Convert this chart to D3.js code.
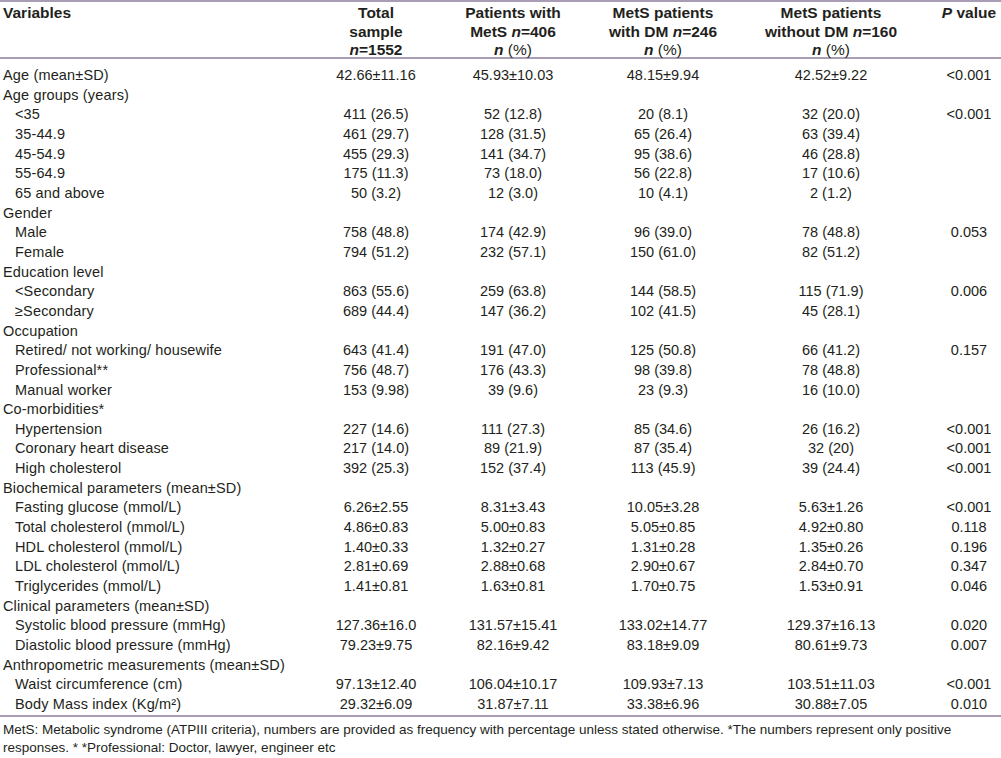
<!DOCTYPE html>
<html><head><meta charset="utf-8">
<script src="https://cdn.jsdelivr.net/npm/d3@7"></script>
<style>
html,body{margin:0;padding:0;background:#fff;}
svg{display:block;}
text{font-family:"Liberation Sans",Arial,sans-serif;fill:#231f20;}
</style></head>
<body>
<script>
// ---------- DATA ----------
const labels = [
  "Age (mean±SD)","Age groups (years)","<35","35-44.9","45-54.9","55-64.9","65 and above",
  "Gender","Male","Female","Education level","<Secondary","≥Secondary",
  "Occupation","Retired/ not working/ housewife","Professional**","Manual worker",
  "Co-morbidities*","Hypertension","Coronary heart disease","High cholesterol",
  "Biochemical parameters (mean±SD)","Fasting glucose (mmol/L)","Total cholesterol (mmol/L)",
  "HDL cholesterol (mmol/L)","LDL cholesterol (mmol/L)","Triglycerides (mmol/L)",
  "Clinical parameters (mean±SD)","Systolic blood pressure (mmHg)","Diastolic blood pressure (mmHg)",
  "Anthropometric measurements (mean±SD)","Waist circumference (cm)","Body Mass index (Kg/m²)"
];
const isSubRow = [0,0,1,1,1,1,1, 0,1,1, 0,1,1, 0,1,1,1, 0,1,1,1, 0,1,1,1,1,1, 0,1,1, 0,1,1];
const totalSample = ["42.66±11.16","","411 (26.5)","461 (29.7)","455 (29.3)","175 (11.3)","50 (3.2)",
  "","758 (48.8)","794 (51.2)","","863 (55.6)","689 (44.4)",
  "","643 (41.4)","756 (48.7)","153 (9.98)",
  "","227 (14.6)","217 (14.0)","392 (25.3)",
  "","6.26±2.55","4.86±0.83","1.40±0.33","2.81±0.69","1.41±0.81",
  "","127.36±16.0","79.23±9.75","","97.13±12.40","29.32±6.09"];
const metsPatients = ["45.93±10.03","","52 (12.8)","128 (31.5)","141 (34.7)","73 (18.0)","12 (3.0)",
  "","174 (42.9)","232 (57.1)","","259 (63.8)","147 (36.2)",
  "","191 (47.0)","176 (43.3)","39 (9.6)",
  "","111 (27.3)","89 (21.9)","152 (37.4)",
  "","8.31±3.43","5.00±0.83","1.32±0.27","2.88±0.68","1.63±0.81",
  "","131.57±15.41","82.16±9.42","","106.04±10.17","31.87±7.11"];
const metsWithDM = ["48.15±9.94","","20 (8.1)","65 (26.4)","95 (38.6)","56 (22.8)","10 (4.1)",
  "","96 (39.0)","150 (61.0)","","144 (58.5)","102 (41.5)",
  "","125 (50.8)","98 (39.8)","23 (9.3)",
  "","85 (34.6)","87 (35.4)","113 (45.9)",
  "","10.05±3.28","5.05±0.85","1.31±0.28","2.90±0.67","1.70±0.75",
  "","133.02±14.77","83.18±9.09","","109.93±7.13","33.38±6.96"];
const metsWithoutDM = ["42.52±9.22","","32 (20.0)","63 (39.4)","46 (28.8)","17 (10.6)","2 (1.2)",
  "","78 (48.8)","82 (51.2)","","115 (71.9)","45 (28.1)",
  "","66 (41.2)","78 (48.8)","16 (10.0)",
  "","26 (16.2)","32 (20)","39 (24.4)",
  "","5.63±1.26","4.92±0.80","1.35±0.26","2.84±0.70","1.53±0.91",
  "","129.37±16.13","80.61±9.73","","103.51±11.03","30.88±7.05"];
const pValues = ["<0.001","","<0.001","","","","",
  "","0.053","","","0.006","",
  "","0.157","","",
  "","<0.001","<0.001","<0.001",
  "","<0.001","0.118","0.196","0.347","0.046",
  "","0.020","0.007","","<0.001","0.010"];
// header lines per column: array of lines, each line array of [text, italic, bold]
const headerCols = [
  [[["Variables",0,1]]],
  [[["Total",0,1]],[["sample",0,1]],[["n",1,1],["=1552",0,1]]],
  [[["Patients with",0,1]],[["MetS ",0,1],["n",1,1],["=406",0,1]],[["n",1,1],[" (%)",0,0]]],
  [[["MetS patients",0,1]],[["with DM ",0,1],["n",1,1],["=246",0,1]],[["n",1,1],[" (%)",0,0]]],
  [[["MetS patients",0,1]],[["without DM ",0,1],["n",1,1],["=160",0,1]],[["n",1,1],[" (%)",0,0]]],
  [[["P",1,1],[" value",0,1]]]
];
const footnotes = [
  "MetS: Metabolic syndrome (ATPIII criteria), numbers are provided as frequency with percentage unless stated otherwise. *The numbers represent only positive",
  "responses. * *Professional: Doctor, lawyer, engineer etc"
];

// ---------- LAYOUT ----------
const W = 1001, H = 758;
const svg = d3.select("body").append("svg").attr("width", W).attr("height", H);
const ruleColor = "#8b7d9d";

const colX = d3.scaleOrdinal().domain([1,2,3,4,5]).range([376, 513, 663, 831, 969]);
const rowY = d3.scalePoint().domain(d3.range(labels.length)).range([80, 709]);
const headY = d3.scalePoint().domain([0,1,2]).range([18, 55]);

// rules
[1, 58, 716].forEach(y => {
  svg.append("line").attr("x1", 0).attr("x2", W).attr("y1", y).attr("y2", y)
    .attr("stroke", ruleColor).attr("stroke-width", 1.5);
});

// header
headerCols.forEach((lines, ci) => {
  lines.forEach((segs, li) => {
    const t = svg.append("text")
      .attr("x", ci === 0 ? 3 : colX(ci))
      .attr("y", headY(li))
      .attr("text-anchor", ci === 0 ? "start" : "middle")
      .style("font-size", "15.5px");
    segs.forEach(s => {
      t.append("tspan").text(s[0])
        .style("font-style", s[1] ? "italic" : "normal")
        .style("font-weight", s[2] ? "bold" : "normal");
    });
  });
});

// body
const body = svg.append("g").style("font-size", "14.5px");
body.selectAll("text.lab").data(labels).join("text").attr("class", "lab")
  .attr("x", (d, i) => isSubRow[i] ? 15 : 3)
  .attr("y", (d, i) => rowY(i))
  .style("letter-spacing", "0.15px")
  .text(d => d);

const valueCols = [totalSample, metsPatients, metsWithDM, metsWithoutDM, pValues];
valueCols.forEach((arr, ci) => {
  body.selectAll("text.c" + ci).data(arr).join("text").attr("class", "c" + ci)
    .attr("x", colX(ci + 1))
    .attr("y", (d, i) => rowY(i))
    .attr("text-anchor", "middle")
    .text(d => d);
});

// footnotes
svg.selectAll("text.fn").data(footnotes).join("text").attr("class", "fn")
  .attr("x", 3).attr("y", (d, i) => 734 + i * 18)
  .style("font-size", "13.5px")
  .text(d => d);
</script>
</body></html>
